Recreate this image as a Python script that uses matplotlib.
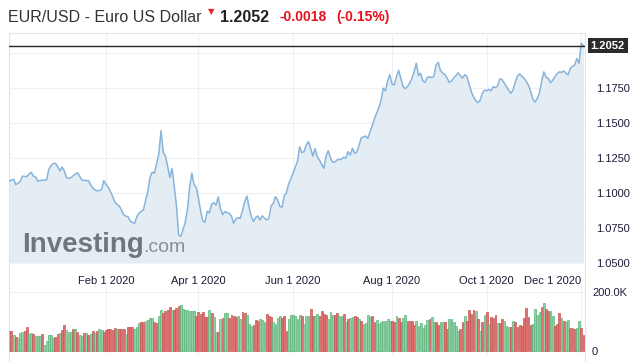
import numpy as np
import pandas as pd
import matplotlib
matplotlib.use('Agg')
import matplotlib.pyplot as plt

# Arial-like font for everything, DejaVu as fallback for the arrow sign
plt.rcParams['font.family'] = ['Liberation Sans', 'DejaVu Sans']

# 1. data (daily closes, business days)
dates = pd.bdate_range('2019-12-03', periods=262)

price = [
    1.1086, 1.1092, 1.1098, 1.1060, 1.1070, 1.1082, 1.1120, 1.1118, 1.1117, 1.1135,
    1.1148, 1.1120, 1.1115, 1.1085, 1.1090, 1.1091, 1.1092, 1.1093, 1.1170, 1.1195,
    1.1210, 1.1212, 1.1190, 1.1158, 1.1185, 1.1160, 1.1110, 1.1105, 1.1109, 1.1122,
    1.1135, 1.1145, 1.1120, 1.1093, 1.1090, 1.1088, 1.1088, 1.1060, 1.1035, 1.1022,
    1.1015, 1.1018, 1.1026, 1.1088, 1.1060, 1.1041, 1.1010, 1.0975, 1.0935, 1.0918,
    1.0907, 1.0880, 1.0845, 1.0834, 1.0831, 1.0800, 1.0790, 1.0783, 1.0830, 1.0855,
    1.0870, 1.0879, 1.0950, 1.1010, 1.1110, 1.1150, 1.1141, 1.1210, 1.1280, 1.1445,
    1.1290, 1.1265, 1.1190, 1.1110, 1.1175, 1.1050, 1.0910, 1.0700, 1.0690, 1.0740,
    1.0790, 1.0880, 1.1040, 1.1141, 1.1060, 1.1040, 1.0965, 1.0870, 1.0800, 1.0792,
    1.0870, 1.0858, 1.0920, 1.0931, 1.0914, 1.0972, 1.0890, 1.0845, 1.0867, 1.0860,
    1.0855, 1.0835, 1.0783, 1.0815, 1.0824, 1.0819, 1.0872, 1.0935, 1.0979, 1.0900,
    1.0835, 1.0797, 1.0825, 1.0836, 1.0808, 1.0838, 1.0820, 1.0807, 1.0819, 1.0905,
    1.0926, 1.0974, 1.0950, 1.0905, 1.0898, 1.0980, 1.1000, 1.1065, 1.1100, 1.1140,
    1.1185, 1.1224, 1.1330, 1.1288, 1.1295, 1.1343, 1.1367, 1.1319, 1.1262, 1.1317,
    1.1259, 1.1236, 1.1205, 1.1176, 1.1262, 1.1302, 1.1250, 1.1220, 1.1222, 1.1236,
    1.1240, 1.1240, 1.1255, 1.1248, 1.1295, 1.1271, 1.1319, 1.1284, 1.1292, 1.1340,
    1.1395, 1.1400, 1.1407, 1.1390, 1.1438, 1.1480, 1.1530, 1.1569, 1.1610, 1.1660,
    1.1748, 1.1730, 1.1800, 1.1845, 1.1778, 1.1772, 1.1830, 1.1875, 1.1820, 1.1760,
    1.1745, 1.1760, 1.1785, 1.1819, 1.1865, 1.1926, 1.1840, 1.1855, 1.1800, 1.1791,
    1.1825, 1.1830, 1.1824, 1.1831, 1.1914, 1.1933, 1.1875, 1.1856, 1.1848, 1.1822,
    1.1790, 1.1800, 1.1822, 1.1838, 1.1858, 1.1840, 1.1820, 1.1845, 1.1833, 1.1780,
    1.1725, 1.1688, 1.1660, 1.1645, 1.1660, 1.1710, 1.1735, 1.1730, 1.1740, 1.1730,
    1.1760, 1.1752, 1.1765, 1.1815, 1.1810, 1.1785, 1.1760, 1.1733, 1.1712, 1.1735,
    1.1792, 1.1835, 1.1850, 1.1835, 1.1820, 1.1797, 1.1770, 1.1725, 1.1670, 1.1648,
    1.1675, 1.1715, 1.1800, 1.1865, 1.1828, 1.1819, 1.1787, 1.1805, 1.1828, 1.1852,
    1.1865, 1.1862, 1.1871, 1.1858, 1.1843, 1.1888, 1.1905, 1.1914, 1.1960, 1.1926,
    1.2070, 1.2052,
]

# volume in thousands
volume_k = [
    67, 67, 54, 48, 42, 59, 63, 67, 81, 56,
    59, 56, 52, 50, 50, 56, 20, 33, 54, 54,
    45, 47, 56, 59, 71, 88, 71, 64, 64, 74,
    74, 64, 54, 50, 61, 59, 54, 58, 67, 62,
    67, 74, 72, 65, 71, 74, 73, 71, 77, 74,
    74, 74, 74, 56, 81, 81, 81, 74, 81, 95,
    97, 99, 102, 104, 111, 111, 99, 94, 119, 139,
    128, 136, 139, 148, 139, 139, 145, 153, 156, 143,
    141, 139, 137, 137, 136, 119, 131, 124, 131, 116,
    116, 139, 128, 116, 63, 63, 108, 113, 128, 128,
    113, 122, 119, 116, 119, 107, 131, 128, 122, 92,
    86, 88, 105, 103, 107, 105, 97, 124, 119, 116,
    97, 92, 111, 119, 111, 119, 69, 107, 122, 122,
    119, 108, 122, 119, 92, 119, 119, 143, 119, 119,
    126, 119, 136, 126, 122, 108, 131, 122, 122, 129,
    119, 119, 126, 97, 108, 113, 116, 119, 116, 108,
    102, 92, 94, 122, 116, 119, 99, 104, 92, 97,
    102, 102, 108, 102, 102, 99, 119, 111, 97, 111,
    122, 102, 102, 102, 88, 102, 83, 94, 77, 88,
    105, 108, 116, 97, 97, 88, 97, 97, 97, 74,
    108, 108, 97, 85, 67, 74, 97, 119, 102, 139,
    126, 139, 136, 108, 67, 97, 122, 132, 92, 116,
    111, 122, 95, 95, 108, 102, 85, 81, 81, 102,
    97, 81, 88, 85, 111, 145, 116, 88, 92, 143,
    122, 134, 149, 162, 143, 136, 136, 119, 86, 90,
    128, 111, 102, 97, 105, 79, 77, 74, 77, 102,
    77, 53,
]

# g = up day (green bar), r = down day (red bar)
day_dir = ("grgrgggrrg grgggrgggg grrgrrgggr grggrgrgrg rggrrrrrrg "
           "rrrgrrrggg rrggggrrgg rrrrgrrrgg gggggrrrrr rgrggrgrgg "
           "rrrrggrrgg grrrgggrrr ggggrrrggg gggrgggrrg grrrrgggrr "
           "ggrgrggrrg rggggrrggg ggggrrgrrg grrrrggggg grggrrggrr "
           "gggggrrgrr rrgrgrgrgr rrgrrgggrg rrrrrrrrgg ggrgrrggrr "
           "rgrggrrrgg rr").replace(" ", "")

tick_dates = ['2020-02-03', '2020-04-01', '2020-06-01', '2020-08-03', '2020-10-01', '2020-12-01']
tick_labels = ['Feb 1 2020', 'Apr 1 2020', 'Jun 1 2020', 'Aug 1 2020', 'Oct 1 2020', 'Dec 1 2020']
price_ticks = [1.05, 1.075, 1.10, 1.125, 1.15, 1.175, 1.20]
price_tick_labels = ['1.0500', '1.0750', '1.1000', '1.1250', '1.1500', '1.1750', '']
vol_ticks = [0, 200]
vol_tick_labels = ['0', '200.0K']

last_price = 1.2052
change = '-0.0018'
change_pct = '(-0.15%)'

x = np.arange(len(dates))
tick_pos = dates.get_indexer(pd.to_datetime(tick_dates))

# 2. layout in pixels
W, H = 644, 362
fig = plt.figure(figsize=(W / 100, H / 100), dpi=100)


def box(l, t, r, b):
    return [l / W, 1 - b / H, (r - l) / W, (b - t) / H]


grid_c = '#eef0f5'
label_c = '#1c1c3a'
x_lim = (-0.1, 261.7)

# light frame around both panels
frame = fig.add_axes(box(9, 33, 585, 362))
frame.set_xticks([])
frame.set_yticks([])
frame.patch.set_alpha(0)
for side in ['top', 'left', 'right']:
    frame.spines[side].set_color('#e2e3eb')
frame.spines['bottom'].set_visible(False)

# 3. price panel
ax = fig.add_axes(box(9, 33, 585, 263))
ax.patch.set_alpha(0)
ax.fill_between(x, price, 1.05, color='#e5edf4', lw=0)
ax.plot(x, price, color='#86b4da', lw=1.1)
ax.axhline(last_price, color='#262626', lw=1)
ax.set_xlim(*x_lim)
ax.set_ylim(1.05, 1.05 + 230 / 1400)
ax.set_yticks(price_ticks)
ax.set_yticklabels(price_tick_labels)
ax.yaxis.tick_right()
ax.set_xticks(tick_pos)
ax.set_xticklabels(tick_labels)
ax.xaxis.get_ticklabels()[-1].set_ha('right')
ax.tick_params(axis='both', length=0, labelsize=8, colors=label_c)
ax.tick_params(axis='y', pad=8)
ax.tick_params(axis='x', pad=9)
ax.grid(True, color=grid_c, lw=0.8)
ax.set_axisbelow(True)
for s in ax.spines.values():
    s.set_visible(False)

# current price tag
ax.annotate(f'{last_price:.4f}', xy=(1, last_price), xycoords=('axes fraction', 'data'),
            xytext=(4, 0), textcoords='offset points', va='center', ha='left',
            fontsize=8, fontweight='bold', color='white',
            bbox=dict(boxstyle='square,pad=0.25', fc='#2b2b2b', ec='none'))

# 4. volume panel
vax = fig.add_axes(box(9, 285, 585, 355))
vax.patch.set_alpha(0)
bar_fc = ['#8fd1a4' if d == 'g' else '#e07272' for d in day_dir]
bar_ec = ['#5cb57c' if d == 'g' else '#c95454' for d in day_dir]
vax.bar(x, volume_k, width=0.85, color=bar_fc, edgecolor=bar_ec, linewidth=0.5)
vax.set_xlim(*x_lim)
vax.set_ylim(-14.7, 225)
vax.set_yticks(vol_ticks)
vax.set_yticklabels(vol_tick_labels)
vax.yaxis.tick_right()
vax.set_xticks(tick_pos)
vax.set_xticklabels([])
vax.tick_params(axis='both', length=0, labelsize=8, colors=label_c)
vax.tick_params(axis='y', pad=5)
vax.grid(True, color=grid_c, lw=0.8)
vax.set_axisbelow(True)
for s in vax.spines.values():
    s.set_visible(False)

# 5. header
ty = 1 - 17 / H
fig.text(8 / W, ty, 'EUR/USD - Euro US Dollar', fontsize=11.5, color='#333333', va='center')
fig.text(208 / W, 1 - 12 / H, '\u25bc', family=['DejaVu Sans'], fontsize=6, color='#e8202a', va='center')
fig.text(220 / W, ty, f'{last_price:.4f}', fontsize=11.5, fontweight='bold', color='#222222', va='center')
fig.text(280 / W, ty, change, fontsize=10, fontweight='bold', color='#e8111b', va='center')
fig.text(336 / W, ty, change_pct, fontsize=10, fontweight='bold', color='#e8111b', va='center')

# watermark
fig.text(22 / W, 1 - 252 / H, 'Investing', fontsize=20, fontweight='bold', color='#72767b', va='baseline')
fig.text(143 / W, 1 - 252 / H, '.com', fontsize=14, color='#8a8e93', va='baseline')

fig.savefig('out.png', dpi=100)
